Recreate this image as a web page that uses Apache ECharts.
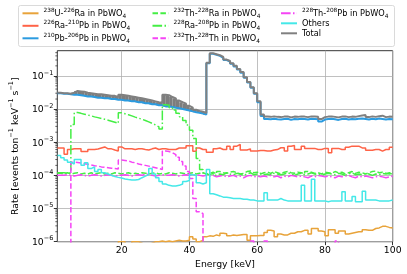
<!DOCTYPE html>
<html><head><meta charset="utf-8">
<script src="https://cdn.jsdelivr.net/npm/echarts@6/dist/echarts.min.js"></script>
<style>html,body{margin:0;padding:0;background:#fff}#c{width:407px;height:274px}</style>
</head><body><div id="c"></div>
<script>
// ---- bins (1 keV wide, lower edges 1..99, upper edge 100) ----
const binLowEdges = Array.from({length: 99}, (_, i) => i + 1);
const binUpper = 100;
const xTicks = [20, 40, 60, 80, 100];
const xTickLabels = ['20', '40', '60', '80', '100'];
const yTicks = [1e-6, 1e-5, 1e-4, 1e-3, 1e-2, 1e-1];
const yTickLabels = ['{b|10}{s|−6}', '{b|10}{s|−5}', '{b|10}{s|−4}', '{b|10}{s|−3}', '{b|10}{s|−2}', '{b|10}{s|−1}'];

const seriesNames = ['²³⁸U-²²⁶Ra in PbWO₄', '²²⁶Ra-²¹⁰Pb in PbWO₄', '²¹⁰Pb-²⁰⁶Pb in PbWO₄',
  '²³²Th-²²⁸Ra in PbWO₄', '²²⁸Ra-²⁰⁸Pb in PbWO₄', '²³²Th-²²⁸Th in PbWO₄',
  '²²⁸Th-²⁰⁸Pb in PbWO₄', 'Others', 'Total'];
// rich-text versions of the legend labels (superscript / subscript)
const legendLabels = ['{s|238}{n|U-}{s|226}{n|Ra in PbWO}{d|4}', '{s|226}{n|Ra-}{s|210}{n|Pb in PbWO}{d|4}', '{s|210}{n|Pb-}{s|206}{n|Pb in PbWO}{d|4}',
  '{s|232}{n|Th-}{s|228}{n|Ra in PbWO}{d|4}', '{s|228}{n|Ra-}{s|208}{n|Pb in PbWO}{d|4}', '{s|232}{n|Th-}{s|228}{n|Th in PbWO}{d|4}',
  '{s|228}{n|Th-}{s|208}{n|Pb in PbWO}{d|4}', '{n|Others}', '{n|Total}'];
const yAxisTitle = '{n|Rate [events ton}{s|−1}{n| keV}{s|−1}{n| s}{s|−1}{n|]}';

const u238Ra226 = [
  5e-7,5e-7,5e-7,5e-7,5e-7,5e-7,5e-7,5e-7,5e-7,5e-7,
  5e-7,5e-7,5e-7,5e-7,5e-7,5e-7,5e-7,5e-7,1.0e-6,1.0e-6,
  8e-7,8e-7,1.0e-6,1.0e-6,9e-7,8e-7,8e-7,9e-7,1.0e-6,1.0e-6,
  1.05e-6,1.0e-6,1.05e-6,1.0e-6,1.05e-6,1.1e-6,1.05e-6,1.05e-6,1.1e-6,1.4e-6,
  1.2e-6,1.0e-6,1.1e-6,1.4e-6,1.5e-6,1.45e-6,1.6e-6,1.5e-6,1.8e-6,1.75e-6,
  1.5e-6,1.6e-6,1.55e-6,1.6e-6,1.65e-6,1.65e-6,1.1e-6,1.5e-6,1.5e-6,1.55e-6,
  1.55e-6,1.9e-6,2.2e-6,2.1e-6,1.4e-6,1.7e-6,1.6e-6,1.6e-6,1.8e-6,1.8e-6,
  2.0e-6,2.0e-6,2.2e-6,2.2e-6,1.7e-6,2.5e-6,2.5e-6,2.1e-6,2.0e-6,1.5e-6,
  2.3e-6,2.3e-6,1.8e-6,2.1e-6,2.1e-6,1.7e-6,1.8e-6,1.9e-6,2.0e-6,2.0e-6,
  2.3e-6,2.2e-6,2.2e-6,2.5e-6,2.6e-6,2.9e-6,2.9e-6,2.7e-6,2.6e-6];

const ra226Pb210 = [
  6.7e-4,6.7e-4,4.3e-4,6.0e-4,6.3e-4,6.3e-4,6.3e-4,5.2e-4,5.2e-4,6.0e-4,
  6.0e-4,6.2e-4,6.7e-4,7.2e-4,6.3e-4,6.3e-4,5.8e-4,5.4e-4,7.2e-4,6.3e-4,
  6.3e-4,6.3e-4,6.0e-4,6.3e-4,6.3e-4,6.0e-4,5.8e-4,6.3e-4,6.7e-4,6.0e-4,
  6.3e-4,6.3e-4,6.0e-4,6.0e-4,6.0e-4,6.7e-4,6.7e-4,6.7e-4,7.8e-4,7.8e-4,
  5.3e-4,6.7e-4,6.0e-4,6.0e-4,5.0e-4,5.0e-4,6.3e-4,6.7e-4,6.0e-4,6.0e-4,
  7.6e-4,6.0e-4,7.6e-4,8.5e-4,5.8e-4,5.8e-4,6.3e-4,5.4e-4,5.4e-4,5.6e-4,
  5.6e-4,5.4e-4,5.4e-4,5.8e-4,6.0e-4,6.8e-4,6.8e-4,5.4e-4,7.6e-4,8.0e-4,
  6.0e-4,6.0e-4,7.6e-4,6.5e-4,6.5e-4,6.5e-4,6.0e-4,6.0e-4,6.5e-4,6.5e-4,
  4.8e-4,6.5e-4,6.5e-4,6.0e-4,6.0e-4,7.0e-4,7.6e-4,7.6e-4,7.6e-4,6.7e-4,
  6.7e-4,5.7e-4,5.7e-4,6.0e-4,6.0e-4,5.4e-4,6.0e-4,6.0e-4,7.0e-4];

const pb210Pb206 = [
  0.030,0.029,0.029,0.028,0.027,0.027,0.026,0.025,0.024,0.024,
  0.023,0.022,0.022,0.021,0.021,0.020,0.020,0.019,0.019,0.018,
  0.018,0.017,0.017,0.016,0.016,0.015,0.015,0.014,0.014,0.013,
  0.013,0.012,0.012,0.0115,0.011,0.0105,0.010,0.0095,0.009,0.0085,
  0.008,0.0077,0.0073,0.0068,0.24,0.46,0.43,0.40,0.35,0.30,
  0.27,0.23,0.19,0.155,0.125,0.088,0.063,0.044,0.029,0.016,
  0.0062,0.0050,0.0049,0.0051,0.0049,0.0048,0.0050,0.0051,0.0047,0.0050,
  0.0049,0.0051,0.0050,0.0048,0.0051,0.0050,0.0049,0.0042,0.0048,0.0050,
  0.0051,0.0049,0.0047,0.0050,0.0051,0.0048,0.0050,0.0049,0.0051,0.0052,
  0.0050,0.0048,0.0051,0.0049,0.0052,0.0050,0.0048,0.0050,0.0049];

const th232Ra228 = [
  1.15e-4,1.1e-4,1.2e-4,1.1e-4,1.15e-4,1.2e-4,1.1e-4,1.15e-4,1.1e-4,1.2e-4,
  1.1e-4,1.15e-4,1.2e-4,1.1e-4,1.15e-4,1.1e-4,1.2e-4,1.15e-4,1.1e-4,1.15e-4,
  1.2e-4,1.1e-4,1.15e-4,1.1e-4,1.2e-4,1.15e-4,1.1e-4,1.15e-4,1.2e-4,1.1e-4,
  1.15e-4,1.1e-4,1.2e-4,1.15e-4,1.1e-4,1.2e-4,1.15e-4,1.1e-4,1.15e-4,1.2e-4,
  1.1e-4,1.15e-4,1.2e-4,1.1e-4,1.15e-4,1.25e-4,1.1e-4,1.3e-4,1.2e-4,1.15e-4,
  1.25e-4,1.3e-4,1.2e-4,1.1e-4,1.15e-4,1.3e-4,1.35e-4,1.2e-4,1.25e-4,1.1e-4,
  1.2e-4,1.25e-4,1.15e-4,1.3e-4,1.2e-4,1.1e-4,1.25e-4,1.3e-4,1.2e-4,1.15e-4,
  1.25e-4,1.2e-4,1.1e-4,1.3e-4,1.25e-4,1.15e-4,1.2e-4,1.1e-4,1.25e-4,1.2e-4,
  1.15e-4,1.3e-4,1.2e-4,1.25e-4,1.1e-4,1.2e-4,1.3e-4,1.15e-4,1.25e-4,1.2e-4,
  1.1e-4,1.2e-4,1.3e-4,1.35e-4,1.2e-4,1.25e-4,1.15e-4,1.1e-4,1.2e-4];

const ra228Pb208 = [
  1.2e-4,1.2e-4,1.15e-4,1.2e-4,0.0034,0.0078,0.0074,0.0070,0.0066,0.0062,
  0.0058,0.0055,0.0052,0.0049,0.0046,0.0043,0.0040,0.0037,0.0077,0.0072,
  0.0067,0.0062,0.0057,0.0053,0.0049,0.0045,0.0041,0.0037,0.0033,0.0029,
  0.0025,0.0135,0.013,0.011,0.0093,0.0075,0.0058,0.0045,0.0033,0.0023,
  0.0013,3.2e-4,1.5e-4,1.1e-4,1.05e-4,1.15e-4,1.0e-4,1.1e-4,1.05e-4,1.2e-4,
  1.1e-4,1.05e-4,1.15e-4,1.1e-4,1.0e-4,1.1e-4,1.2e-4,1.05e-4,1.1e-4,1.15e-4,
  1.05e-4,1.1e-4,1.0e-4,1.15e-4,1.1e-4,1.05e-4,1.1e-4,1.2e-4,1.1e-4,1.0e-4,
  1.1e-4,1.15e-4,1.05e-4,1.1e-4,1.2e-4,1.1e-4,1.05e-4,1.0e-4,1.1e-4,1.15e-4,
  1.1e-4,1.05e-4,1.15e-4,1.1e-4,1.0e-4,1.1e-4,1.2e-4,1.05e-4,1.1e-4,1.05e-4,
  1.15e-4,1.1e-4,1.0e-4,1.1e-4,1.05e-4,1.15e-4,1.1e-4,1.2e-4,1.05e-4];

const th232Th228 = [
  1e-9,1e-9,1e-9,1e-9,2.5e-4,2.45e-4,2.35e-4,2.25e-4,2.15e-4,2.05e-4,
  1.95e-4,1.9e-4,1.8e-4,1.75e-4,1.7e-4,1.65e-4,1.6e-4,1.55e-4,2.9e-4,2.8e-4,
  2.7e-4,2.5e-4,2.4e-4,2.2e-4,2.1e-4,2.0e-4,1.9e-4,1.8e-4,1.7e-4,1.6e-4,
  1.5e-4,5.4e-4,5.2e-4,4.8e-4,4.2e-4,3.5e-4,2.6e-4,1.9e-4,1.3e-4,8e-5,
  2e-5,8e-6,7e-6,1e-9,1e-9,1e-9,1e-9,1e-9,1e-9,1e-9,
  1e-9,1e-9,1e-9,1e-9,1e-9,1e-9,1e-9,1.05e-6,1e-9,1e-9,
  1e-9,1.05e-6,1e-9,1e-9,1e-9,1e-9,1e-9,1e-9,1e-9,1e-9,
  1e-9,1e-9,1e-9,1e-9,1e-9,1e-9,1e-9,1e-9,1e-9,1e-9,
  1e-9,1e-9,1.05e-6,1e-9,1e-9,1e-9,1e-9,1e-9,1e-9,1e-9,
  1e-9,1e-9,1e-9,1e-9,1e-9,1e-9,1e-9,1e-9,1e-9];

const th228Pb208 = [
  1.0e-4,1.0e-4,1.05e-4,1.0e-4,9.5e-5,1.0e-4,1.05e-4,1.0e-4,9.5e-5,1.0e-4,
  1.05e-4,1.0e-4,9.5e-5,1.0e-4,1.05e-4,1.0e-4,9.5e-5,1.0e-4,1.0e-4,1.05e-4,
  1.0e-4,9.5e-5,1.0e-4,1.05e-4,1.0e-4,1.1e-4,1.05e-4,1.0e-4,9.5e-5,1.0e-4,
  1.05e-4,1.0e-4,1.0e-4,1.05e-4,1.0e-4,9.5e-5,1.0e-4,1.05e-4,1.0e-4,1.0e-4,
  1.05e-4,1.0e-4,9.5e-5,1.0e-4,9.5e-5,1.0e-4,9.0e-5,9.5e-5,1.0e-4,9.0e-5,
  9.5e-5,1.0e-4,9.0e-5,9.5e-5,8.5e-5,9.5e-5,1.0e-4,9.0e-5,9.5e-5,9.0e-5,
  9.5e-5,9.0e-5,1.0e-4,9.0e-5,9.5e-5,8.5e-5,9.5e-5,9.0e-5,1.0e-4,9.5e-5,
  9.0e-5,9.5e-5,9.0e-5,8.5e-5,9.5e-5,9.0e-5,1.0e-4,9.5e-5,9.0e-5,9.5e-5,
  9.0e-5,8.5e-5,9.5e-5,9.0e-5,9.5e-5,1.0e-4,9.0e-5,8.5e-5,9.5e-5,9.0e-5,
  9.5e-5,9.0e-5,8.5e-5,9.0e-5,9.5e-5,9.0e-5,8.5e-5,9.0e-5,9.5e-5];

const others = [
  4.0e-4,3.4e-4,2.9e-4,2.5e-4,2.2e-4,3.0e-4,3.0e-4,2.0e-4,2.4e-4,1.6e-4,
  1.8e-4,1.3e-4,1.5e-4,1.2e-4,1.1e-4,1.0e-4,9.2e-5,8.7e-5,8.3e-5,7.8e-5,
  7.5e-5,7.3e-5,7.2e-5,7.5e-5,8.5e-5,9.5e-5,1.05e-4,1.6e-4,1.1e-4,8.5e-5,
  6.5e-5,5.5e-5,5.0e-5,4.8e-5,4.8e-5,5.0e-5,5.5e-5,6.5e-5,7.0e-5,1.05e-4,
  1.0e-4,6.0e-5,5.5e-5,6.0e-5,1.5e-4,2.8e-5,2.6e-5,2.4e-5,2.2e-5,2.2e-5,
  2.1e-5,2.0e-5,2.0e-5,2.0e-5,1.9e-5,1.9e-5,1.8e-5,1.8e-5,1.7e-5,1.7e-5,
  1.7e-5,3.0e-5,1.8e-5,1.8e-5,1.8e-5,2.0e-5,1.8e-5,1.7e-5,1.7e-5,1.7e-5,
  1.7e-5,1.7e-5,5.0e-5,1.7e-5,1.7e-5,7.6e-5,1.7e-5,1.7e-5,1.7e-5,1.6e-5,
  1.7e-5,1.7e-5,1.7e-5,1.7e-5,3.2e-5,1.7e-5,1.7e-5,2.3e-5,1.6e-5,1.6e-5,
  3.3e-5,1.8e-5,1.8e-5,1.8e-5,1.7e-5,1.7e-5,1.7e-5,1.7e-5,1.8e-5];

const total = [
  0.031,0.030,0.030,0.029,0.031,0.035,0.034,0.033,0.031,0.030,
  0.029,0.028,0.028,0.027,0.026,0.025,0.025,0.023,0.027,0.026,
  0.025,0.024,0.023,0.022,0.021,0.020,0.019,0.018,0.017,0.016,
  0.0155,0.027,0.026,0.023,0.021,0.018,0.016,0.0145,0.0125,0.011,
  0.0095,0.0088,0.0083,0.0076,0.25,0.48,0.45,0.42,0.37,0.31,
  0.28,0.24,0.20,0.16,0.13,0.09,0.065,0.045,0.030,0.017,
  0.0068,0.0059,0.0058,0.0060,0.0058,0.0057,0.0059,0.0060,0.0056,0.0059,
  0.0058,0.0060,0.0059,0.0057,0.0060,0.0059,0.0058,0.0050,0.0057,0.0059,
  0.0060,0.0058,0.0056,0.0059,0.0060,0.0057,0.0059,0.0058,0.0061,0.0064,
  0.0066,0.0057,0.0060,0.0058,0.0061,0.0063,0.0057,0.0059,0.0058];

// ---- styling ----
const FONT = 'DejaVu Sans';
const colors = ['#E8A33A', '#FF6347', '#2B9BE0', '#44EE44', '#44EE44', '#F544F5', '#F544F5', '#44E8E8', '#808080'];
const DASH = [5.5, 2.4];
const DASHDOT = [9.6, 2.4, 1.5, 2.4];
const styles = ['solid', 'solid', 'solid', DASH, DASHDOT, DASH, DASHDOT, 'solid', 'solid'];
const widths = [1.5, 1.5, 2, 1.5, 1.5, 1.5, 1.5, 1.5, 2];
const allVals = [u238Ra226, ra226Pb210, pb210Pb206, th232Ra228, ra228Pb208, th232Th228, th228Pb208, others, total];

function stepData(vals) {
  const d = binLowEdges.map((e, i) => [e, vals[i]]);
  d.push([binUpper, vals[vals.length - 1]]);
  return d;
}

const series = [];
// band between the 210Pb line and the total (densely fluctuating region)
const bandData = [];
binLowEdges.forEach((e, i) => {
  const hi = i + 1 < binLowEdges.length ? binLowEdges[i + 1] : binUpper;
  if (e < 45) bandData.push([e, hi, pb210Pb206[i], total[i]]);
});
series.push({
  type: 'custom', silent: true, clip: true, z: 1,
  data: bandData, encode: {x: [0, 1], y: [2, 3]},
  renderItem: (params, api) => {
    const p0 = api.coord([api.value(0), api.value(3)]);
    const p1 = api.coord([api.value(1), api.value(2)]);
    return {type: 'rect', shape: {x: p0[0], y: p0[1], width: p1[0] - p0[0], height: p1[1] - p0[1]},
      style: {fill: '#7d7d7d'}};
  }
});
seriesNames.forEach((name, k) => {
  series.push({
    name, type: 'line', step: 'end', data: stepData(allVals[k]),
    symbol: 'none', showSymbol: false, clip: true, silent: true, z: 2 + k,
    lineStyle: {color: colors[k], width: widths[k], type: styles[k]},
    itemStyle: {color: colors[k]},
    emphasis: {disabled: true}
  });
});
// y minor ticks (log decades 2..9)
const yMinor = [];
for (let p = -6; p < 0; p++) for (let m = 2; m <= 9; m++) { const v = m * Math.pow(10, p); if (v < 0.57) yMinor.push(v); }
series.push({
  type: 'custom', silent: true, clip: false, z: 20,
  data: yMinor.map(v => [1, v]), encode: {x: 0, y: 1},
  renderItem: (params, api) => {
    const p = api.coord([api.value(0), api.value(1)]);
    return {type: 'line', shape: {x1: p[0] - 2, y1: p[1], x2: p[0], y2: p[1]}, style: {stroke: '#000', lineWidth: 0.6}};
  }
});

const legendRich = {
  n: {fontFamily: FONT, fontSize: 8.2, color: '#000', lineHeight: 12, verticalAlign: 'bottom', padding: [0, 0, 1.5, 0]},
  s: {fontFamily: FONT, fontSize: 5.8, color: '#000', lineHeight: 7, verticalAlign: 'top'},
  d: {fontFamily: FONT, fontSize: 5.8, color: '#000', lineHeight: 6, verticalAlign: 'bottom'}
};
const legendCommon = {orient: 'vertical', top: 7.3, itemWidth: 16, itemHeight: 8, itemGap: 0.5,
  itemStyle: {opacity: 0}, selectedMode: false, padding: 0,
  formatter: name => legendLabels[seriesNames.indexOf(name)],
  textStyle: {fontFamily: FONT, fontSize: 8.2, color: '#000', rich: legendRich}};

const option = {
  animation: false,
  backgroundColor: '#fff',
  textStyle: {fontFamily: FONT},
  grid: {left: 44.7, top: 50.7, width: 348, height: 191, show: true, borderColor: '#000', borderWidth: 0.8, backgroundColor: 'rgba(0,0,0,0)'},
  xAxis: {
    type: 'value', min: 1, max: 100,
    axisLine: {show: false},
    axisTick: {show: true, inside: false, length: 3.5, customValues: xTicks, lineStyle: {color: '#000', width: 0.8}},
    axisLabel: {customValues: xTicks, formatter: v => xTickLabels[xTicks.indexOf(v)], fontSize: 9.3, color: '#000', margin: 4, fontFamily: FONT},
    splitLine: {show: true, lineStyle: {color: '#b0b0b0', width: 0.8}},
    name: 'Energy [keV]', nameLocation: 'middle', nameGap: 17,
    nameTextStyle: {fontSize: 9.3, color: '#000', fontFamily: FONT}
  },
  yAxis: {
    type: 'log', logBase: 10, min: 1e-6, max: 0.573,
    axisLine: {show: false},
    axisTick: {show: true, inside: false, length: 3.5, customValues: yTicks, lineStyle: {color: '#000', width: 0.8}},
    axisLabel: {customValues: yTicks, color: '#000', margin: 4, fontFamily: FONT,
      rich: {
        b: {fontFamily: FONT, fontSize: 9.3, color: '#000', lineHeight: 13, verticalAlign: 'bottom', padding: [0, 0, 1, 0]},
        s: {fontFamily: FONT, fontSize: 6.5, color: '#000', lineHeight: 8, verticalAlign: 'top'}
      },
      formatter: v => { const i = yTicks.findIndex(t => Math.abs(Math.log10(t) - Math.log10(v)) < 1e-6); return i >= 0 ? yTickLabels[i] : ''; }},
    splitLine: {show: true, lineStyle: {color: '#b0b0b0', width: 0.8}},
    minorTick: {show: false},
    name: yAxisTitle, nameLocation: 'middle', nameGap: 27, nameRotate: 90,
    nameTextStyle: {fontSize: 9.3, color: '#000', fontFamily: FONT,
      rich: {
        n: {fontFamily: FONT, fontSize: 9.3, color: '#000', lineHeight: 13, verticalAlign: 'bottom', padding: [0, 0, 1, 0]},
        s: {fontFamily: FONT, fontSize: 6.5, color: '#000', lineHeight: 8, verticalAlign: 'top'}
      }}
  },
  legend: [
    Object.assign({data: seriesNames.slice(0, 3), left: 21.5}, legendCommon),
    Object.assign({data: seriesNames.slice(3, 6), left: 151.5}, legendCommon),
    Object.assign({data: seriesNames.slice(6, 9), left: 280}, legendCommon)
  ],
  graphic: [{type: 'rect', z: 0, silent: true, shape: {x: 18.5, y: 5.5, width: 376, height: 41, r: 2},
    style: {fill: 'rgba(255,255,255,0.8)', stroke: '#d0d0d0', lineWidth: 0.8}}],
  series
};
const chart = echarts.init(document.getElementById('c'), null, {renderer: 'canvas'});
chart.setOption(option);
</script></body></html>
